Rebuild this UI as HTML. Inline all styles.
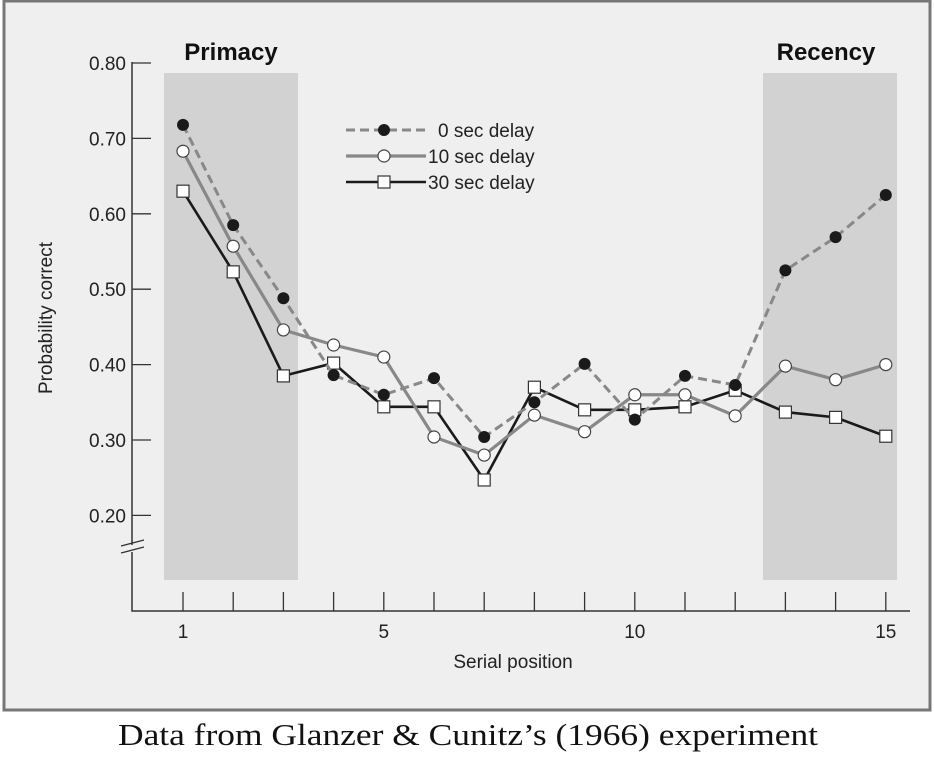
<!DOCTYPE html>
<html><head><meta charset="utf-8"><style>
body{margin:0;background:#fff;}
svg{display:block;font-family:"Liberation Sans",sans-serif;}
</style></head><body>
<svg id="c" width="934" height="758" viewBox="0 0 934 758">
<rect x="4" y="1" width="926" height="709" fill="#efefef" stroke="#777" stroke-width="3"/>
<g id="plot"></g>
<text x="118" y="745" textLength="700" lengthAdjust="spacingAndGlyphs" font-family="Liberation Serif, serif" font-size="31" fill="#111">Data from Glanzer &amp; Cunitz’s (1966) experiment</text>
</svg>
<script>
const positions=[1,2,3,4,5,6,7,8,9,10,11,12,13,14,15];
const delay0=[0.718,0.585,0.488,0.386,0.360,0.382,0.304,0.350,0.401,0.327,0.385,0.373,0.525,0.569,0.625];
const delay10=[0.683,0.557,0.446,0.426,0.410,0.304,0.280,0.333,0.311,0.360,0.360,0.332,0.398,0.380,0.400];
const delay30=[0.630,0.523,0.385,0.402,0.344,0.344,0.247,0.370,0.340,0.340,0.344,0.366,0.337,0.330,0.305];
const yTicks=[0.20,0.30,0.40,0.50,0.60,0.70,0.80];
const xLabels=[1,5,10,15];
const NS='http://www.w3.org/2000/svg';
const g=document.getElementById('plot');
const X=v=>183+(v-1)*50.2;
const Y=v=>440-(v-0.30)*754;
function mk(t,a,p){const e=document.createElementNS(NS,t);for(const k in a)e.setAttribute(k,a[k]);(p||g).appendChild(e);return e;}
let e;
e=mk('rect',{x:164,y:73,width:134,height:507,fill:'#d2d2d2'});


e=mk('rect',{x:763,y:73,width:134,height:507,fill:'#d2d2d2'});


e=mk('text',{x:231,y:60,'text-anchor':'middle','font-size':24,'font-weight':'bold',fill:'#111'});e.textContent='Primacy';


e=mk('text',{x:826,y:60,'text-anchor':'middle','font-size':24,'font-weight':'bold',fill:'#111'});e.textContent='Recency';


e=mk('path',{d:'M132 62 V545 M132 552 V611 H910',stroke:'#333','stroke-width':1.5,fill:'none'});


e=mk('path',{d:'M121 546 L144 540 M121 553 L144 547',stroke:'#333','stroke-width':1.3,fill:'none'});


yTicks.forEach(v=>{
 mk('line',{x1:132,x2:151,y1:Y(v),y2:Y(v),stroke:'#333','stroke-width':1.3});
 e=mk('text',{x:126,y:Y(v)+7,'text-anchor':'end','font-size':19,fill:'#222'});e.textContent=v.toFixed(2);
 
 
});
positions.forEach(p=>mk('line',{x1:X(p),x2:X(p),y1:611,y2:592,stroke:'#333','stroke-width':1.3}));
xLabels.forEach(p=>{e=mk('text',{x:X(p),y:638,'text-anchor':'middle','font-size':19,fill:'#222'});e.textContent=p;
 
 });
e=mk('text',{x:513,y:668,'text-anchor':'middle','font-size':19,fill:'#222'});e.textContent='Serial position';


e=mk('text',{x:0,y:0,'text-anchor':'middle','font-size':19,fill:'#222',transform:'translate(52,318) rotate(-90)'});e.textContent='Probability correct';


function series(vals,style,name){
 const s=mk('g',{});
 
 
 mk('polyline',{points:vals.map((v,i)=>X(positions[i])+','+Y(v)).join(' '),fill:'none',stroke:style.c,'stroke-width':style.w,'stroke-dasharray':style.d||'none'},s);
 vals.forEach((v,i)=>marker(X(positions[i]),Y(v),style.m,s));
}
function marker(x,y,m,p){
 if(m==='dot')mk('circle',{cx:x,cy:y,r:6,fill:'#1a1a1a'},p);
 else if(m==='circle')mk('circle',{cx:x,cy:y,r:6,fill:'#fff',stroke:'#444','stroke-width':1.2},p);
 else mk('rect',{x:x-6,y:y-6,width:12,height:12,fill:'#fff',stroke:'#333','stroke-width':1.2},p);
}
const st0={c:'#888',w:3,d:'9 5',m:'dot'},st10={c:'#888',w:3.2,m:'circle'},st30={c:'#1a1a1a',w:2.6,m:'square'};
series(delay30,st30,'series-30-sec');
series(delay10,st10,'series-10-sec');
series(delay0,st0,'series-0-sec');
[[st0,'0 sec delay',130],[st10,'10 sec delay',156],[st30,'30 sec delay',182]].forEach(([s,t,y])=>{
 const lg=mk('g',{});
 
 
 mk('line',{x1:346,x2:426,y1:y,y2:y,stroke:s.c,'stroke-width':s.w,'stroke-dasharray':s.d||'none'},lg);
 marker(384,y,s.m,lg);
 const tx=mk('text',{x:t.startsWith('0')?438:428,y:y+7,'font-size':19,fill:'#222'},lg);tx.textContent=t;
});
</script>
</body></html>
